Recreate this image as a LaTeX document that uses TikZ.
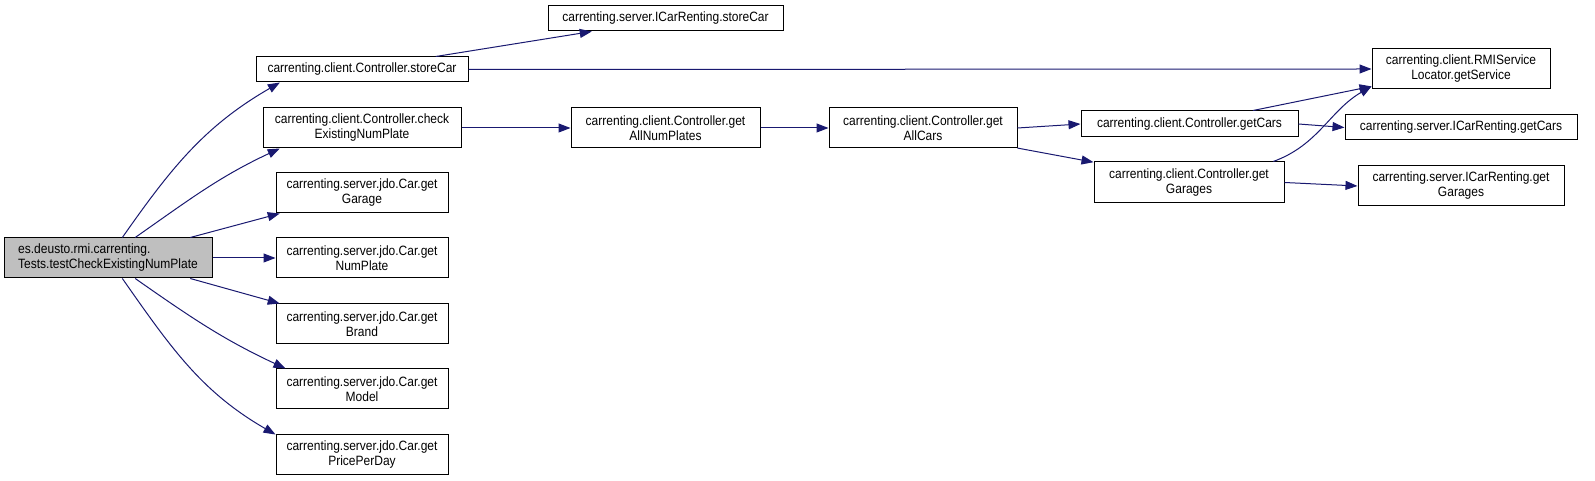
\documentclass[tikz,border=0pt]{standalone}
\usepackage{fontspec}
\setmainfont{Liberation Sans}[FakeStretch=0.89]
\usetikzlibrary{arrows.meta}
\definecolor{edgeblue}{RGB}{25,25,112}
\definecolor{rootgray}{RGB}{191,191,191}

\begin{document}
\begin{tikzpicture}[x=1pt,y=1pt,
    fn/.style={draw, line width=1pt, fill=white, align=center, inner sep=0pt,
      font=\fontsize{13.5}{15}\selectfont},
    call/.style={draw=edgeblue, line width=1pt, -{Triangle[length=12pt,width=9pt]}}]
    \useasboundingbox (0,0) rectangle (1595,481);

    \node [fn, fill=rootgray, align=left, minimum width=208pt, minimum height=40pt] (root) at (108,223)
      {es.deusto.rmi.carrenting.\\Tests.testCheckExistingNumPlate};

    \node [fn, minimum width=212pt, minimum height=25pt] (storeC) at (362,411.5) {carrenting.client.Controller.storeCar};
    \node [fn, minimum width=198pt, minimum height=40pt] (checkC) at (362,353) {carrenting.client.Controller.check\\ExistingNumPlate};
    \node [fn, minimum width=172pt, minimum height=40pt] (getGarage) at (362,288) {carrenting.server.jdo.Car.get\\Garage};
    \node [fn, minimum width=172pt, minimum height=40pt] (getNumPlate) at (362,223) {carrenting.server.jdo.Car.get\\NumPlate};
    \node [fn, minimum width=172pt, minimum height=40pt] (getBrand) at (362,157) {carrenting.server.jdo.Car.get\\Brand};
    \node [fn, minimum width=172pt, minimum height=40pt] (getModel) at (362,92) {carrenting.server.jdo.Car.get\\Model};
    \node [fn, minimum width=172pt, minimum height=40pt] (getPrice) at (362,26.5) {carrenting.server.jdo.Car.get\\PricePerDay};

    \node [fn, minimum width=235pt, minimum height=25pt] (icStore) at (665.5,462.5) {carrenting.server.ICarRenting.storeCar};
    \node [fn, minimum width=189pt, minimum height=40pt] (allPlates) at (665.5,353) {carrenting.client.Controller.get\\AllNumPlates};
    \node [fn, minimum width=188pt, minimum height=40pt] (allCars) at (923,353) {carrenting.client.Controller.get\\AllCars};

    \node [fn, minimum width=217pt, minimum height=26pt] (getCars) at (1189.5,357) {carrenting.client.Controller.getCars};
    \node [fn, minimum width=190pt, minimum height=41pt] (getGarages) at (1189,298.5) {carrenting.client.Controller.get\\Garages};

    \node [fn, minimum width=178pt, minimum height=40pt] (service) at (1461,412) {carrenting.client.RMIService\\Locator.getService};
    \node [fn, minimum width=232pt, minimum height=25pt] (icCars) at (1461,353.5) {carrenting.server.ICarRenting.getCars};
    \node [fn, minimum width=206pt, minimum height=40pt] (icGarages) at (1461,295) {carrenting.server.ICarRenting.get\\Garages};

    \draw [call] (root.55) to [out=55,in=210] (storeC.189);
    \draw [call] (root.37) to [out=35,in=205] (checkC.194);
    \draw [call] (root.14) -- (getGarage.194);
    \draw [call] (root.east) -- (getNumPlate.west);
    \draw [call] (root.-14) -- (getBrand.166);
    \draw [call] (root.-37) to [out=-35,in=155] (getModel.165);
    \draw [call] (root.-55) to [out=-55,in=150] (getPrice.167);

    \draw [call] (storeC.10) -- (icStore.190);
    \draw [call] (storeC.east) -- (service.west);

    \draw [call] (checkC.east) -- (allPlates.west);
    \draw [call] (allPlates.east) -- (allCars.west);
    \draw [call] (allCars.east) -- (getCars.west);
    \draw [call] (allCars.-12) -- (getGarages.168);

    \draw [call] (getCars.12) -- (service.191);
    \draw [call] (getCars.east) -- (icCars.west);
    \draw [call] (getGarages.14) to [out=20,in=210] (service.191);
    \draw [call] (getGarages.east) -- (icGarages.west);
  \end{tikzpicture}
\end{document}
